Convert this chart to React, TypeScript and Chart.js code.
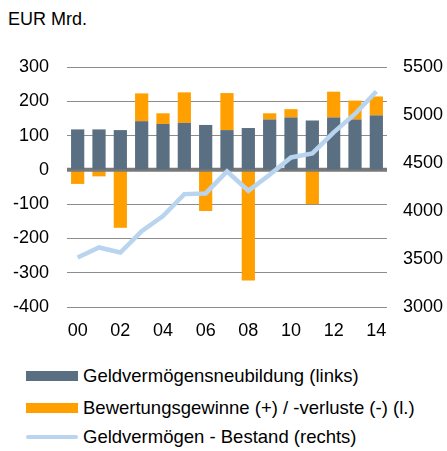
import React, { useEffect, useRef } from "react";
import { Chart, registerables } from "chart.js";

Chart.register(...registerables);

const years = ["00", "01", "02", "03", "04", "05", "06", "07", "08", "09", "10", "11", "12", "13", "14"];
const neubildung = [118, 118, 116, 142, 134, 137, 131, 116, 122, 147, 153, 144, 153, 147, 159];
const bewertung = [-41, -19, -169, 81, 31, 89, -120, 108, -323, 18, 24, -100, 75, 55, 55];
const bestand = [3515, 3620, 3568, 3790, 3947, 4176, 4183, 4412, 4211, 4378, 4558, 4600, 4819, 5011, 5245];
const leftTicks = [-400, -300, -200, -100, 0, 100, 200, 300];
const rightTicks = [3000, 3500, 4000, 4500, 5000, 5500];

const legendItems = [
  { label: "Geldvermögensneubildung (links)", color: "#5b6f82", kind: "box", center: 376 },
  { label: "Bewertungsgewinne (+) / -verluste (-) (l.)", color: "#ffa000", kind: "box", center: 408 },
  { label: "Geldvermögen - Bestand (rechts)", color: "#b8d4ee", kind: "line", center: 437 },
];

const FONT = "'Liberation Sans', Arial, sans-serif";

const zeroLinePlugin = {
  id: "zeroLine",
  afterDatasetDraw(chart: any, args: any) {
    if (args.index !== 1) return;
    const y = chart.scales.y.getPixelForValue(0);
    const { left, right } = chart.chartArea;
    const ctx = chart.ctx;
    ctx.save();
    ctx.strokeStyle = "#787878";
    ctx.lineWidth = 4;
    ctx.beginPath();
    ctx.moveTo(left, y);
    ctx.lineTo(right, y);
    ctx.stroke();
    ctx.restore();
  },
};

export default function App() {
  const ref = useRef<HTMLCanvasElement>(null);
  useEffect(() => {
    if (!ref.current) return;
    const chart = new Chart(ref.current, {
      type: "bar",
      data: {
        labels: years,
        datasets: [
          {
            type: "bar",
            label: "Geldvermögensneubildung (links)",
            data: neubildung,
            backgroundColor: "#5b6f82",
            yAxisID: "y",
            stack: "s",
            order: 2,
            categoryPercentage: 1,
            barPercentage: 0.62,
          },
          {
            type: "bar",
            label: "Bewertungsgewinne (+) / -verluste (-) (l.)",
            data: bewertung,
            backgroundColor: "#ffa000",
            yAxisID: "y",
            stack: "s",
            order: 2,
            categoryPercentage: 1,
            barPercentage: 0.62,
          },
          {
            type: "line",
            label: "Geldvermögen - Bestand (rechts)",
            data: bestand,
            borderColor: "#b8d4ee",
            backgroundColor: "#b8d4ee",
            borderWidth: 4.5,
            pointRadius: 0,
            tension: 0,
            yAxisID: "y1",
            order: 1,
          },
        ],
      },
      options: {
        animation: false,
        responsive: false,
        maintainAspectRatio: false,
        layout: { padding: { top: 67, left: 0, right: 0, bottom: 0 } },
        plugins: {
          legend: { display: false },
          tooltip: { enabled: false },
          title: { display: false },
        },
        scales: {
          x: {
            stacked: true,
            grid: { display: false, drawTicks: false },
            border: { display: false },
            ticks: {
              autoSkip: false,
              maxRotation: 0,
              padding: 13,
              color: "#000",
              font: { family: FONT, size: 18 },
              callback: (_v: any, i: number) => (i % 2 === 0 ? years[i] : ""),
            },
            afterFit: (s: any) => {
              s.height = 38;
            },
          },
          y: {
            stacked: true,
            position: "left",
            min: -400,
            max: 300,
            afterBuildTicks: (s: any) => {
              s.ticks = leftTicks.map((v) => ({ value: v }));
            },
            grid: { color: "#8c8c8c", lineWidth: 1, drawTicks: false },
            border: { display: false },
            ticks: {
              padding: 18,
              color: "#000",
              font: { family: FONT, size: 18 },
              callback: (v: any) => String(v),
            },
            afterFit: (s: any) => {
              s.width = 67;
            },
          },
          y1: {
            position: "right",
            min: 3000,
            max: 5500,
            afterBuildTicks: (s: any) => {
              s.ticks = rightTicks.map((v) => ({ value: v }));
            },
            grid: { display: false, drawTicks: false },
            border: { display: false },
            ticks: {
              padding: 16,
              color: "#000",
              font: { family: FONT, size: 18 },
              callback: (v: any) => String(v),
            },
            afterFit: (s: any) => {
              s.width = 60;
            },
          },
        },
      },
      plugins: [zeroLinePlugin],
    });
    return () => chart.destroy();
  }, []);

  return (
    <div style={{ position: "absolute", left: 0, top: 0, width: 447, height: 451, background: "#fff", fontFamily: FONT }}>
      <div style={{ position: "absolute", left: 8, top: 9, fontSize: 18, color: "#000", lineHeight: "20px" }}>EUR Mrd.</div>
      <canvas ref={ref} width={447} height={345} style={{ position: "absolute", left: 0, top: 0, width: 447, height: 345 }} />
      {legendItems.map((it, i) => (
        <div
          key={i}
          style={{
            position: "absolute",
            left: 26,
            top: it.center - 12,
            display: "flex",
            alignItems: "center",
            height: 24,
            fontSize: 18.5,
            color: "#000",
            whiteSpace: "nowrap",
          }}
        >
          <span
            style={{
              display: "inline-block",
              width: 52,
              height: it.kind === "box" ? 10 : 4,
              borderRadius: it.kind === "box" ? 0 : 2,
              background: it.color,
              marginRight: 5,
            }}
          />
          <span>{it.label}</span>
        </div>
      ))}
    </div>
  );
}
